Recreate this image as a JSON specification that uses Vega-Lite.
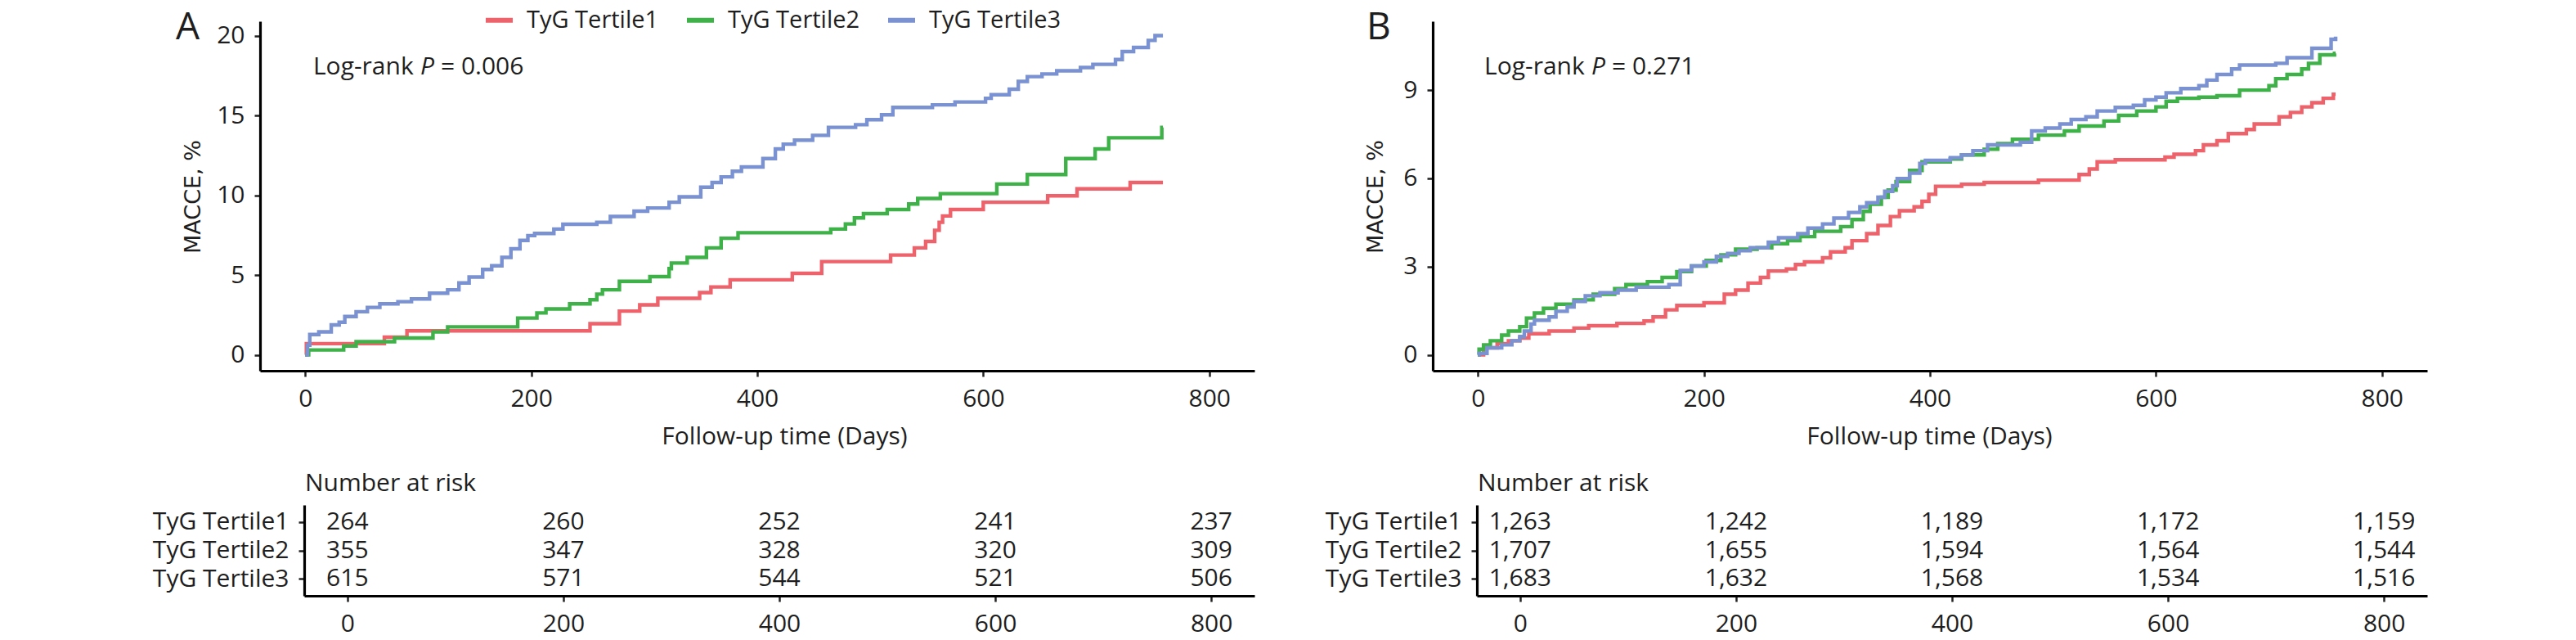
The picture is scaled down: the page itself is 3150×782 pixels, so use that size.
{
"$schema": "https://vega.github.io/schema/vega-lite/v6.json",
"autosize": {"type": "none"},
"padding": {"left": 318, "top": 26, "right": 2832, "bottom": 756},
"background": "white",
"config": {
  "font": "Open Sans",
  "view": {"stroke": null},
  "axis": {"domainColor": "#000000", "domainWidth": 3.2, "tickColor": "#222222", "tickWidth": 2.5, "tickSize": 7, "labelFont": "Open Sans", "labelFontSize": 30, "labelColor": "#1e1e1e", "labelPadding": 12, "grid": false, "titleFont": "Open Sans", "titleFontSize": 30, "titleFontWeight": "normal", "titleColor": "#1e1e1e"},
  "legend": {"labelFont": "Open Sans", "labelFontSize": 29, "labelColor": "#1e1e1e", "labelLimit": 500}
},
"datasets": {
"curves": [
{"panel":"A","group":"TyG Tertile1","day":0,"pct":0},{"panel":"A","group":"TyG Tertile1","day":1,"pct":0.7},{"panel":"A","group":"TyG Tertile1","day":70,"pct":1.1},{"panel":"A","group":"TyG Tertile1","day":90,"pct":1.5},{"panel":"A","group":"TyG Tertile1","day":252,"pct":1.95},{"panel":"A","group":"TyG Tertile1","day":278,"pct":2.74},{"panel":"A","group":"TyG Tertile1","day":296,"pct":3.13},{"panel":"A","group":"TyG Tertile1","day":312,"pct":3.54},{"panel":"A","group":"TyG Tertile1","day":349,"pct":3.9},{"panel":"A","group":"TyG Tertile1","day":359,"pct":4.25},{"panel":"A","group":"TyG Tertile1","day":376,"pct":4.7},{"panel":"A","group":"TyG Tertile1","day":431,"pct":5.1},{"panel":"A","group":"TyG Tertile1","day":457,"pct":5.84},{"panel":"A","group":"TyG Tertile1","day":518,"pct":6.25},{"panel":"A","group":"TyG Tertile1","day":539,"pct":6.7},{"panel":"A","group":"TyG Tertile1","day":549,"pct":7.1},{"panel":"A","group":"TyG Tertile1","day":557,"pct":7.8},{"panel":"A","group":"TyG Tertile1","day":561,"pct":8.3},{"panel":"A","group":"TyG Tertile1","day":564,"pct":8.7},{"panel":"A","group":"TyG Tertile1","day":571,"pct":9.1},{"panel":"A","group":"TyG Tertile1","day":600,"pct":9.56},{"panel":"A","group":"TyG Tertile1","day":657,"pct":9.96},{"panel":"A","group":"TyG Tertile1","day":683,"pct":10.4},{"panel":"A","group":"TyG Tertile1","day":730,"pct":10.8},{"panel":"A","group":"TyG Tertile1","day":759,"pct":10.8},
{"panel":"A","group":"TyG Tertile2","day":0,"pct":0},{"panel":"A","group":"TyG Tertile2","day":3,"pct":0.3},{"panel":"A","group":"TyG Tertile2","day":34,"pct":0.55},{"panel":"A","group":"TyG Tertile2","day":45,"pct":0.82},{"panel":"A","group":"TyG Tertile2","day":79,"pct":1.05},{"panel":"A","group":"TyG Tertile2","day":113,"pct":1.44},{"panel":"A","group":"TyG Tertile2","day":126,"pct":1.75},{"panel":"A","group":"TyG Tertile2","day":188,"pct":2.3},{"panel":"A","group":"TyG Tertile2","day":205,"pct":2.62},{"panel":"A","group":"TyG Tertile2","day":213,"pct":2.87},{"panel":"A","group":"TyG Tertile2","day":234,"pct":3.19},{"panel":"A","group":"TyG Tertile2","day":252,"pct":3.45},{"panel":"A","group":"TyG Tertile2","day":258,"pct":3.8},{"panel":"A","group":"TyG Tertile2","day":263,"pct":4.07},{"panel":"A","group":"TyG Tertile2","day":278,"pct":4.6},{"panel":"A","group":"TyG Tertile2","day":305,"pct":4.9},{"panel":"A","group":"TyG Tertile2","day":322,"pct":5.4},{"panel":"A","group":"TyG Tertile2","day":324,"pct":5.75},{"panel":"A","group":"TyG Tertile2","day":338,"pct":6.1},{"panel":"A","group":"TyG Tertile2","day":355,"pct":6.7},{"panel":"A","group":"TyG Tertile2","day":368,"pct":7.3},{"panel":"A","group":"TyG Tertile2","day":383,"pct":7.65},{"panel":"A","group":"TyG Tertile2","day":465,"pct":7.88},{"panel":"A","group":"TyG Tertile2","day":478,"pct":8.2},{"panel":"A","group":"TyG Tertile2","day":486,"pct":8.58},{"panel":"A","group":"TyG Tertile2","day":494,"pct":8.85},{"panel":"A","group":"TyG Tertile2","day":515,"pct":9.1},{"panel":"A","group":"TyG Tertile2","day":534,"pct":9.45},{"panel":"A","group":"TyG Tertile2","day":542,"pct":9.8},{"panel":"A","group":"TyG Tertile2","day":562,"pct":10.1},{"panel":"A","group":"TyG Tertile2","day":612,"pct":10.7},{"panel":"A","group":"TyG Tertile2","day":639,"pct":11.3},{"panel":"A","group":"TyG Tertile2","day":673,"pct":12.3},{"panel":"A","group":"TyG Tertile2","day":699,"pct":12.9},{"panel":"A","group":"TyG Tertile2","day":711,"pct":13.6},{"panel":"A","group":"TyG Tertile2","day":758,"pct":14.25},{"panel":"A","group":"TyG Tertile2","day":759,"pct":14.25},
{"panel":"A","group":"TyG Tertile3","day":0,"pct":0},{"panel":"A","group":"TyG Tertile3","day":2,"pct":0.6},{"panel":"A","group":"TyG Tertile3","day":4,"pct":1.27},{"panel":"A","group":"TyG Tertile3","day":12,"pct":1.44},{"panel":"A","group":"TyG Tertile3","day":23,"pct":1.87},{"panel":"A","group":"TyG Tertile3","day":30,"pct":2.04},{"panel":"A","group":"TyG Tertile3","day":35,"pct":2.4},{"panel":"A","group":"TyG Tertile3","day":45,"pct":2.7},{"panel":"A","group":"TyG Tertile3","day":55,"pct":2.97},{"panel":"A","group":"TyG Tertile3","day":66,"pct":3.19},{"panel":"A","group":"TyG Tertile3","day":82,"pct":3.33},{"panel":"A","group":"TyG Tertile3","day":94,"pct":3.5},{"panel":"A","group":"TyG Tertile3","day":110,"pct":3.86},{"panel":"A","group":"TyG Tertile3","day":126,"pct":4.07},{"panel":"A","group":"TyG Tertile3","day":136,"pct":4.5},{"panel":"A","group":"TyG Tertile3","day":145,"pct":4.87},{"panel":"A","group":"TyG Tertile3","day":157,"pct":5.35},{"panel":"A","group":"TyG Tertile3","day":165,"pct":5.58},{"panel":"A","group":"TyG Tertile3","day":174,"pct":6.1},{"panel":"A","group":"TyG Tertile3","day":182,"pct":6.64},{"panel":"A","group":"TyG Tertile3","day":190,"pct":7.17},{"panel":"A","group":"TyG Tertile3","day":197,"pct":7.47},{"panel":"A","group":"TyG Tertile3","day":203,"pct":7.6},{"panel":"A","group":"TyG Tertile3","day":220,"pct":7.88},{"panel":"A","group":"TyG Tertile3","day":228,"pct":8.18},{"panel":"A","group":"TyG Tertile3","day":258,"pct":8.3},{"panel":"A","group":"TyG Tertile3","day":270,"pct":8.67},{"panel":"A","group":"TyG Tertile3","day":291,"pct":9.0},{"panel":"A","group":"TyG Tertile3","day":303,"pct":9.2},{"panel":"A","group":"TyG Tertile3","day":322,"pct":9.56},{"panel":"A","group":"TyG Tertile3","day":331,"pct":9.9},{"panel":"A","group":"TyG Tertile3","day":350,"pct":10.5},{"panel":"A","group":"TyG Tertile3","day":360,"pct":10.8},{"panel":"A","group":"TyG Tertile3","day":368,"pct":11.15},{"panel":"A","group":"TyG Tertile3","day":378,"pct":11.5},{"panel":"A","group":"TyG Tertile3","day":386,"pct":11.77},{"panel":"A","group":"TyG Tertile3","day":405,"pct":12.3},{"panel":"A","group":"TyG Tertile3","day":416,"pct":12.9},{"panel":"A","group":"TyG Tertile3","day":423,"pct":13.2},{"panel":"A","group":"TyG Tertile3","day":433,"pct":13.45},{"panel":"A","group":"TyG Tertile3","day":449,"pct":13.75},{"panel":"A","group":"TyG Tertile3","day":463,"pct":14.25},{"panel":"A","group":"TyG Tertile3","day":487,"pct":14.42},{"panel":"A","group":"TyG Tertile3","day":497,"pct":14.73},{"panel":"A","group":"TyG Tertile3","day":510,"pct":15.04},{"panel":"A","group":"TyG Tertile3","day":520,"pct":15.5},{"panel":"A","group":"TyG Tertile3","day":555,"pct":15.66},{"panel":"A","group":"TyG Tertile3","day":575,"pct":15.84},{"panel":"A","group":"TyG Tertile3","day":602,"pct":16.07},{"panel":"A","group":"TyG Tertile3","day":607,"pct":16.3},{"panel":"A","group":"TyG Tertile3","day":623,"pct":16.64},{"panel":"A","group":"TyG Tertile3","day":631,"pct":17.13},{"panel":"A","group":"TyG Tertile3","day":639,"pct":17.43},{"panel":"A","group":"TyG Tertile3","day":652,"pct":17.6},{"panel":"A","group":"TyG Tertile3","day":665,"pct":17.8},{"panel":"A","group":"TyG Tertile3","day":686,"pct":18.0},{"panel":"A","group":"TyG Tertile3","day":697,"pct":18.2},{"panel":"A","group":"TyG Tertile3","day":717,"pct":18.5},{"panel":"A","group":"TyG Tertile3","day":723,"pct":19.0},{"panel":"A","group":"TyG Tertile3","day":733,"pct":19.26},{"panel":"A","group":"TyG Tertile3","day":746,"pct":19.7},{"panel":"A","group":"TyG Tertile3","day":752,"pct":20.0},{"panel":"A","group":"TyG Tertile3","day":759,"pct":20.0},
{"panel":"B","group":"TyG Tertile1","day":0,"pct":0},{"panel":"B","group":"TyG Tertile1","day":5,"pct":0.24},{"panel":"B","group":"TyG Tertile1","day":17,"pct":0.38},{"panel":"B","group":"TyG Tertile1","day":27,"pct":0.48},{"panel":"B","group":"TyG Tertile1","day":37,"pct":0.57},{"panel":"B","group":"TyG Tertile1","day":45,"pct":0.72},{"panel":"B","group":"TyG Tertile1","day":63,"pct":0.81},{"panel":"B","group":"TyG Tertile1","day":85,"pct":0.91},{"panel":"B","group":"TyG Tertile1","day":98,"pct":0.99},{"panel":"B","group":"TyG Tertile1","day":123,"pct":1.07},{"panel":"B","group":"TyG Tertile1","day":147,"pct":1.15},{"panel":"B","group":"TyG Tertile1","day":155,"pct":1.29},{"panel":"B","group":"TyG Tertile1","day":166,"pct":1.53},{"panel":"B","group":"TyG Tertile1","day":176,"pct":1.68},{"panel":"B","group":"TyG Tertile1","day":200,"pct":1.77},{"panel":"B","group":"TyG Tertile1","day":218,"pct":2.06},{"panel":"B","group":"TyG Tertile1","day":228,"pct":2.2},{"panel":"B","group":"TyG Tertile1","day":239,"pct":2.44},{"panel":"B","group":"TyG Tertile1","day":250,"pct":2.63},{"panel":"B","group":"TyG Tertile1","day":257,"pct":2.85},{"panel":"B","group":"TyG Tertile1","day":273,"pct":2.92},{"panel":"B","group":"TyG Tertile1","day":281,"pct":3.07},{"panel":"B","group":"TyG Tertile1","day":289,"pct":3.16},{"panel":"B","group":"TyG Tertile1","day":305,"pct":3.3},{"panel":"B","group":"TyG Tertile1","day":312,"pct":3.5},{"panel":"B","group":"TyG Tertile1","day":325,"pct":3.64},{"panel":"B","group":"TyG Tertile1","day":331,"pct":3.88},{"panel":"B","group":"TyG Tertile1","day":344,"pct":4.12},{"panel":"B","group":"TyG Tertile1","day":354,"pct":4.4},{"panel":"B","group":"TyG Tertile1","day":365,"pct":4.7},{"panel":"B","group":"TyG Tertile1","day":373,"pct":4.9},{"panel":"B","group":"TyG Tertile1","day":386,"pct":5.03},{"panel":"B","group":"TyG Tertile1","day":393,"pct":5.22},{"panel":"B","group":"TyG Tertile1","day":399,"pct":5.46},{"panel":"B","group":"TyG Tertile1","day":405,"pct":5.73},{"panel":"B","group":"TyG Tertile1","day":428,"pct":5.8},{"panel":"B","group":"TyG Tertile1","day":448,"pct":5.86},{"panel":"B","group":"TyG Tertile1","day":496,"pct":5.94},{"panel":"B","group":"TyG Tertile1","day":532,"pct":6.13},{"panel":"B","group":"TyG Tertile1","day":541,"pct":6.32},{"panel":"B","group":"TyG Tertile1","day":548,"pct":6.56},{"panel":"B","group":"TyG Tertile1","day":564,"pct":6.63},{"panel":"B","group":"TyG Tertile1","day":608,"pct":6.72},{"panel":"B","group":"TyG Tertile1","day":616,"pct":6.82},{"panel":"B","group":"TyG Tertile1","day":635,"pct":6.94},{"panel":"B","group":"TyG Tertile1","day":642,"pct":7.14},{"panel":"B","group":"TyG Tertile1","day":654,"pct":7.28},{"panel":"B","group":"TyG Tertile1","day":664,"pct":7.52},{"panel":"B","group":"TyG Tertile1","day":680,"pct":7.66},{"panel":"B","group":"TyG Tertile1","day":687,"pct":7.85},{"panel":"B","group":"TyG Tertile1","day":709,"pct":8.09},{"panel":"B","group":"TyG Tertile1","day":719,"pct":8.24},{"panel":"B","group":"TyG Tertile1","day":729,"pct":8.43},{"panel":"B","group":"TyG Tertile1","day":738,"pct":8.57},{"panel":"B","group":"TyG Tertile1","day":748,"pct":8.72},{"panel":"B","group":"TyG Tertile1","day":757,"pct":8.86},{"panel":"B","group":"TyG Tertile1","day":759,"pct":8.86},
{"panel":"B","group":"TyG Tertile2","day":0,"pct":0},{"panel":"B","group":"TyG Tertile2","day":1,"pct":0.19},{"panel":"B","group":"TyG Tertile2","day":5,"pct":0.34},{"panel":"B","group":"TyG Tertile2","day":11,"pct":0.48},{"panel":"B","group":"TyG Tertile2","day":21,"pct":0.67},{"panel":"B","group":"TyG Tertile2","day":27,"pct":0.81},{"panel":"B","group":"TyG Tertile2","day":37,"pct":0.96},{"panel":"B","group":"TyG Tertile2","day":43,"pct":1.25},{"panel":"B","group":"TyG Tertile2","day":50,"pct":1.42},{"panel":"B","group":"TyG Tertile2","day":58,"pct":1.58},{"panel":"B","group":"TyG Tertile2","day":69,"pct":1.72},{"panel":"B","group":"TyG Tertile2","day":85,"pct":1.87},{"panel":"B","group":"TyG Tertile2","day":102,"pct":2.06},{"panel":"B","group":"TyG Tertile2","day":121,"pct":2.25},{"panel":"B","group":"TyG Tertile2","day":131,"pct":2.39},{"panel":"B","group":"TyG Tertile2","day":150,"pct":2.49},{"panel":"B","group":"TyG Tertile2","day":163,"pct":2.63},{"panel":"B","group":"TyG Tertile2","day":176,"pct":2.83},{"panel":"B","group":"TyG Tertile2","day":189,"pct":3.02},{"panel":"B","group":"TyG Tertile2","day":202,"pct":3.21},{"panel":"B","group":"TyG Tertile2","day":215,"pct":3.4},{"panel":"B","group":"TyG Tertile2","day":228,"pct":3.59},{"panel":"B","group":"TyG Tertile2","day":247,"pct":3.64},{"panel":"B","group":"TyG Tertile2","day":260,"pct":3.78},{"panel":"B","group":"TyG Tertile2","day":274,"pct":3.88},{"panel":"B","group":"TyG Tertile2","day":285,"pct":4.02},{"panel":"B","group":"TyG Tertile2","day":298,"pct":4.2},{"panel":"B","group":"TyG Tertile2","day":321,"pct":4.36},{"panel":"B","group":"TyG Tertile2","day":331,"pct":4.6},{"panel":"B","group":"TyG Tertile2","day":341,"pct":4.88},{"panel":"B","group":"TyG Tertile2","day":347,"pct":5.12},{"panel":"B","group":"TyG Tertile2","day":357,"pct":5.36},{"panel":"B","group":"TyG Tertile2","day":363,"pct":5.6},{"panel":"B","group":"TyG Tertile2","day":370,"pct":5.89},{"panel":"B","group":"TyG Tertile2","day":382,"pct":6.27},{"panel":"B","group":"TyG Tertile2","day":393,"pct":6.56},{"panel":"B","group":"TyG Tertile2","day":418,"pct":6.66},{"panel":"B","group":"TyG Tertile2","day":428,"pct":6.8},{"panel":"B","group":"TyG Tertile2","day":448,"pct":6.99},{"panel":"B","group":"TyG Tertile2","day":460,"pct":7.18},{"panel":"B","group":"TyG Tertile2","day":473,"pct":7.33},{"panel":"B","group":"TyG Tertile2","day":496,"pct":7.47},{"panel":"B","group":"TyG Tertile2","day":519,"pct":7.61},{"panel":"B","group":"TyG Tertile2","day":532,"pct":7.78},{"panel":"B","group":"TyG Tertile2","day":554,"pct":7.95},{"panel":"B","group":"TyG Tertile2","day":567,"pct":8.14},{"panel":"B","group":"TyG Tertile2","day":583,"pct":8.29},{"panel":"B","group":"TyG Tertile2","day":600,"pct":8.43},{"panel":"B","group":"TyG Tertile2","day":609,"pct":8.62},{"panel":"B","group":"TyG Tertile2","day":619,"pct":8.72},{"panel":"B","group":"TyG Tertile2","day":638,"pct":8.76},{"panel":"B","group":"TyG Tertile2","day":654,"pct":8.81},{"panel":"B","group":"TyG Tertile2","day":674,"pct":9.0},{"panel":"B","group":"TyG Tertile2","day":700,"pct":9.15},{"panel":"B","group":"TyG Tertile2","day":706,"pct":9.39},{"panel":"B","group":"TyG Tertile2","day":716,"pct":9.53},{"panel":"B","group":"TyG Tertile2","day":729,"pct":9.72},{"panel":"B","group":"TyG Tertile2","day":735,"pct":9.91},{"panel":"B","group":"TyG Tertile2","day":745,"pct":10.2},{"panel":"B","group":"TyG Tertile2","day":758,"pct":10.25},{"panel":"B","group":"TyG Tertile2","day":759,"pct":10.25},
{"panel":"B","group":"TyG Tertile3","day":0,"pct":0},{"panel":"B","group":"TyG Tertile3","day":1,"pct":0.05},{"panel":"B","group":"TyG Tertile3","day":8,"pct":0.24},{"panel":"B","group":"TyG Tertile3","day":21,"pct":0.34},{"panel":"B","group":"TyG Tertile3","day":30,"pct":0.48},{"panel":"B","group":"TyG Tertile3","day":37,"pct":0.62},{"panel":"B","group":"TyG Tertile3","day":41,"pct":0.81},{"panel":"B","group":"TyG Tertile3","day":47,"pct":1.05},{"panel":"B","group":"TyG Tertile3","day":50,"pct":1.18},{"panel":"B","group":"TyG Tertile3","day":63,"pct":1.29},{"panel":"B","group":"TyG Tertile3","day":69,"pct":1.48},{"panel":"B","group":"TyG Tertile3","day":79,"pct":1.63},{"panel":"B","group":"TyG Tertile3","day":85,"pct":1.82},{"panel":"B","group":"TyG Tertile3","day":95,"pct":2.01},{"panel":"B","group":"TyG Tertile3","day":108,"pct":2.11},{"panel":"B","group":"TyG Tertile3","day":124,"pct":2.2},{"panel":"B","group":"TyG Tertile3","day":140,"pct":2.3},{"panel":"B","group":"TyG Tertile3","day":169,"pct":2.39},{"panel":"B","group":"TyG Tertile3","day":179,"pct":2.87},{"panel":"B","group":"TyG Tertile3","day":189,"pct":3.02},{"panel":"B","group":"TyG Tertile3","day":200,"pct":3.16},{"panel":"B","group":"TyG Tertile3","day":211,"pct":3.35},{"panel":"B","group":"TyG Tertile3","day":221,"pct":3.45},{"panel":"B","group":"TyG Tertile3","day":231,"pct":3.54},{"panel":"B","group":"TyG Tertile3","day":241,"pct":3.64},{"panel":"B","group":"TyG Tertile3","day":257,"pct":3.83},{"panel":"B","group":"TyG Tertile3","day":266,"pct":3.98},{"panel":"B","group":"TyG Tertile3","day":283,"pct":4.12},{"panel":"B","group":"TyG Tertile3","day":292,"pct":4.31},{"panel":"B","group":"TyG Tertile3","day":305,"pct":4.45},{"panel":"B","group":"TyG Tertile3","day":315,"pct":4.65},{"panel":"B","group":"TyG Tertile3","day":328,"pct":4.84},{"panel":"B","group":"TyG Tertile3","day":338,"pct":5.03},{"panel":"B","group":"TyG Tertile3","day":344,"pct":5.17},{"panel":"B","group":"TyG Tertile3","day":354,"pct":5.36},{"panel":"B","group":"TyG Tertile3","day":360,"pct":5.56},{"panel":"B","group":"TyG Tertile3","day":367,"pct":5.75},{"panel":"B","group":"TyG Tertile3","day":371,"pct":5.99},{"panel":"B","group":"TyG Tertile3","day":382,"pct":6.18},{"panel":"B","group":"TyG Tertile3","day":391,"pct":6.51},{"panel":"B","group":"TyG Tertile3","day":396,"pct":6.61},{"panel":"B","group":"TyG Tertile3","day":418,"pct":6.7},{"panel":"B","group":"TyG Tertile3","day":428,"pct":6.8},{"panel":"B","group":"TyG Tertile3","day":438,"pct":6.94},{"panel":"B","group":"TyG Tertile3","day":451,"pct":7.14},{"panel":"B","group":"TyG Tertile3","day":480,"pct":7.23},{"panel":"B","group":"TyG Tertile3","day":490,"pct":7.61},{"panel":"B","group":"TyG Tertile3","day":502,"pct":7.71},{"panel":"B","group":"TyG Tertile3","day":515,"pct":7.85},{"panel":"B","group":"TyG Tertile3","day":525,"pct":8.0},{"panel":"B","group":"TyG Tertile3","day":538,"pct":8.09},{"panel":"B","group":"TyG Tertile3","day":548,"pct":8.29},{"panel":"B","group":"TyG Tertile3","day":564,"pct":8.41},{"panel":"B","group":"TyG Tertile3","day":580,"pct":8.48},{"panel":"B","group":"TyG Tertile3","day":590,"pct":8.67},{"panel":"B","group":"TyG Tertile3","day":600,"pct":8.76},{"panel":"B","group":"TyG Tertile3","day":609,"pct":8.91},{"panel":"B","group":"TyG Tertile3","day":622,"pct":9.05},{"panel":"B","group":"TyG Tertile3","day":638,"pct":9.15},{"panel":"B","group":"TyG Tertile3","day":645,"pct":9.34},{"panel":"B","group":"TyG Tertile3","day":654,"pct":9.53},{"panel":"B","group":"TyG Tertile3","day":667,"pct":9.72},{"panel":"B","group":"TyG Tertile3","day":674,"pct":9.85},{"panel":"B","group":"TyG Tertile3","day":706,"pct":9.91},{"panel":"B","group":"TyG Tertile3","day":716,"pct":10.1},{"panel":"B","group":"TyG Tertile3","day":738,"pct":10.42},{"panel":"B","group":"TyG Tertile3","day":755,"pct":10.73},{"panel":"B","group":"TyG Tertile3","day":759,"pct":10.82}
],
"risk": [
{"panel":"A","group":"TyG Tertile1","day":0,"n":264},{"panel":"A","group":"TyG Tertile1","day":200,"n":260},{"panel":"A","group":"TyG Tertile1","day":400,"n":252},{"panel":"A","group":"TyG Tertile1","day":600,"n":241},{"panel":"A","group":"TyG Tertile1","day":800,"n":237},
{"panel":"A","group":"TyG Tertile2","day":0,"n":355},{"panel":"A","group":"TyG Tertile2","day":200,"n":347},{"panel":"A","group":"TyG Tertile2","day":400,"n":328},{"panel":"A","group":"TyG Tertile2","day":600,"n":320},{"panel":"A","group":"TyG Tertile2","day":800,"n":309},
{"panel":"A","group":"TyG Tertile3","day":0,"n":615},{"panel":"A","group":"TyG Tertile3","day":200,"n":571},{"panel":"A","group":"TyG Tertile3","day":400,"n":544},{"panel":"A","group":"TyG Tertile3","day":600,"n":521},{"panel":"A","group":"TyG Tertile3","day":800,"n":506},
{"panel":"B","group":"TyG Tertile1","day":0,"n":1263},{"panel":"B","group":"TyG Tertile1","day":200,"n":1242},{"panel":"B","group":"TyG Tertile1","day":400,"n":1189},{"panel":"B","group":"TyG Tertile1","day":600,"n":1172},{"panel":"B","group":"TyG Tertile1","day":800,"n":1159},
{"panel":"B","group":"TyG Tertile2","day":0,"n":1707},{"panel":"B","group":"TyG Tertile2","day":200,"n":1655},{"panel":"B","group":"TyG Tertile2","day":400,"n":1594},{"panel":"B","group":"TyG Tertile2","day":600,"n":1564},{"panel":"B","group":"TyG Tertile2","day":800,"n":1544},
{"panel":"B","group":"TyG Tertile3","day":0,"n":1683},{"panel":"B","group":"TyG Tertile3","day":200,"n":1632},{"panel":"B","group":"TyG Tertile3","day":400,"n":1568},{"panel":"B","group":"TyG Tertile3","day":600,"n":1534},{"panel":"B","group":"TyG Tertile3","day":800,"n":1516}
]
},
"columns": 2,
"bounds": "flush",
"spacing": {"row": 164, "column": 218},
"concat": [
{
  "width": 1216, "height": 427,
  "layer": [
    {
      "data": {"name": "curves"},
      "transform": [{"filter": "datum.panel === 'A'"}],
      "mark": {"type": "line", "interpolate": "step-after", "strokeWidth": 4.4},
      "encoding": {
        "x": {"field": "day", "type": "quantitative", "scale": {"domain": [-40, 840], "nice": false, "zero": false},
              "axis": {"values": [0, 200, 400, 600, 800], "title": "Follow-up time (Days)", "titleX": 641, "titleY": 89, "titleAlign": "center", "titleBaseline": "alphabetic"}},
        "y": {"field": "pct", "type": "quantitative", "scale": {"domain": [-1, 20.9], "nice": false, "zero": false},
              "axis": {"values": [0, 5, 10, 15, 20], "title": "MACCE, %", "titleFont": "DejaVu Sans", "titleFontSize": 27, "titleX": -74, "titleY": 214, "titleAngle": -90, "titleAlign": "center", "titleBaseline": "alphabetic"}},
        "color": {"field": "group", "type": "nominal",
                  "scale": {"domain": ["TyG Tertile1", "TyG Tertile2", "TyG Tertile3"], "range": ["#EE636B", "#3EB248", "#7A92D2"]},
                  "legend": {"orient": "none", "legendX": 273, "legendY": -21, "direction": "horizontal", "title": null, "symbolType": "stroke", "symbolSize": 1089, "symbolStrokeWidth": 6, "labelOffset": 14, "columnPadding": 22, "labelLimit": 500}}
      }
    },
    {
      "data": {"values": [{"label": "A"}]},
      "mark": {"type": "text", "fontSize": 46, "align": "left", "baseline": "alphabetic", "color": "#1e1e1e"},
      "encoding": {"x": {"datum": -114.5}, "y": {"datum": 19.77}, "text": {"field": "label"}}
    },
    {
      "data": {"values": [{"label": "Log-rank"}]},
      "mark": {"type": "text", "fontSize": 30, "align": "left", "baseline": "middle", "color": "#1e1e1e"},
      "encoding": {"x": {"datum": 7}, "y": {"datum": 18.03}, "text": {"field": "label"}}
    },
    {
      "data": {"values": [{"label": "P"}]},
      "mark": {"type": "text", "fontSize": 30, "align": "left", "baseline": "middle", "fontStyle": "italic", "dx": 131, "color": "#1e1e1e"},
      "encoding": {"x": {"datum": 7}, "y": {"datum": 18.03}, "text": {"field": "label"}}
    },
    {
      "data": {"values": [{"label": "= 0.006"}]},
      "mark": {"type": "text", "fontSize": 30, "align": "left", "baseline": "middle", "dx": 156, "color": "#1e1e1e"},
      "encoding": {"x": {"datum": 7}, "y": {"datum": 18.03}, "text": {"field": "label"}}
    }
  ]
},
{
  "width": 1216, "height": 427,
  "layer": [
    {
      "data": {"name": "curves"},
      "transform": [{"filter": "datum.panel === 'B'"}],
      "mark": {"type": "line", "interpolate": "step-after", "strokeWidth": 4.4},
      "encoding": {
        "x": {"field": "day", "type": "quantitative", "scale": {"domain": [-40, 840], "nice": false, "zero": false},
              "axis": {"values": [0, 200, 400, 600, 800], "title": "Follow-up time (Days)", "titleX": 607, "titleY": 89, "titleAlign": "center", "titleBaseline": "alphabetic"}},
        "y": {"field": "pct", "type": "quantitative", "scale": {"domain": [-0.54, 11.34], "nice": false, "zero": false},
              "axis": {"values": [0, 3, 6, 9], "title": "MACCE, %", "titleFont": "DejaVu Sans", "titleFontSize": 27, "titleX": -62, "titleY": 214, "titleAngle": -90, "titleAlign": "center", "titleBaseline": "alphabetic"}},
        "color": {"field": "group", "type": "nominal",
                  "scale": {"domain": ["TyG Tertile1", "TyG Tertile2", "TyG Tertile3"], "range": ["#EE636B", "#3EB248", "#7A92D2"]},
                  "legend": {"orient": "none", "legendX": 271, "legendY": -21, "direction": "horizontal", "title": null, "symbolType": "stroke", "symbolSize": 1089, "symbolStrokeWidth": 6, "labelOffset": 14, "columnPadding": 22, "labelLimit": 500}}
      }
    },
    {
      "data": {"values": [{"label": "B"}]},
      "mark": {"type": "text", "fontSize": 46, "align": "left", "baseline": "alphabetic", "color": "#1e1e1e"},
      "encoding": {"x": {"datum": -98.6}, "y": {"datum": 10.73}, "text": {"field": "label"}}
    },
    {
      "data": {"values": [{"label": "Log-rank"}]},
      "mark": {"type": "text", "fontSize": 30, "align": "left", "baseline": "middle", "color": "#1e1e1e"},
      "encoding": {"x": {"datum": 5.6}, "y": {"datum": 9.78}, "text": {"field": "label"}}
    },
    {
      "data": {"values": [{"label": "P"}]},
      "mark": {"type": "text", "fontSize": 30, "align": "left", "baseline": "middle", "fontStyle": "italic", "dx": 131, "color": "#1e1e1e"},
      "encoding": {"x": {"datum": 5.6}, "y": {"datum": 9.78}, "text": {"field": "label"}}
    },
    {
      "data": {"values": [{"label": "= 0.271"}]},
      "mark": {"type": "text", "fontSize": 30, "align": "left", "baseline": "middle", "dx": 156, "color": "#1e1e1e"},
      "encoding": {"x": {"datum": 5.6}, "y": {"datum": 9.78}, "text": {"field": "label"}}
    }
  ]
},
{
  "width": 1216, "height": 111,
  "data": {"name": "risk"},
  "transform": [{"filter": "datum.panel === 'A'"}],
  "title": {"text": "Number at risk", "anchor": "start", "frame": "group", "dx": 55, "offset": -13, "baseline": "alphabetic", "fontSize": 30, "fontWeight": "normal", "font": "Open Sans", "color": "#1e1e1e"},
  "mark": {"type": "text", "fontSize": 30, "baseline": "middle", "align": "center", "color": "#1e1e1e"},
  "encoding": {
    "x": {"field": "day", "type": "quantitative", "scale": {"domain": [-40, 840], "range": [54, 1216], "nice": false, "zero": false}, "axis": {"values": [0, 200, 400, 600, 800], "title": null}},
    "y": {"field": "group", "type": "nominal", "scale": {"type": "point", "padding": 0.6, "domain": ["TyG Tertile1", "TyG Tertile2", "TyG Tertile3"]}, "axis": {"title": null, "offset": -54}},
    "text": {"field": "n", "type": "quantitative", "format": ","}
  }
},
{
  "width": 1216, "height": 111,
  "data": {"name": "risk"},
  "transform": [{"filter": "datum.panel === 'B'"}],
  "title": {"text": "Number at risk", "anchor": "start", "frame": "group", "dx": 55, "offset": -13, "baseline": "alphabetic", "fontSize": 30, "fontWeight": "normal", "font": "Open Sans", "color": "#1e1e1e"},
  "mark": {"type": "text", "fontSize": 30, "baseline": "middle", "align": "center", "color": "#1e1e1e"},
  "encoding": {
    "x": {"field": "day", "type": "quantitative", "scale": {"domain": [-40, 840], "range": [54, 1216], "nice": false, "zero": false}, "axis": {"values": [0, 200, 400, 600, 800], "title": null}},
    "y": {"field": "group", "type": "nominal", "scale": {"type": "point", "padding": 0.6, "domain": ["TyG Tertile1", "TyG Tertile2", "TyG Tertile3"]}, "axis": {"title": null, "offset": -54}},
    "text": {"field": "n", "type": "quantitative", "format": ","}
  }
}
]
}
